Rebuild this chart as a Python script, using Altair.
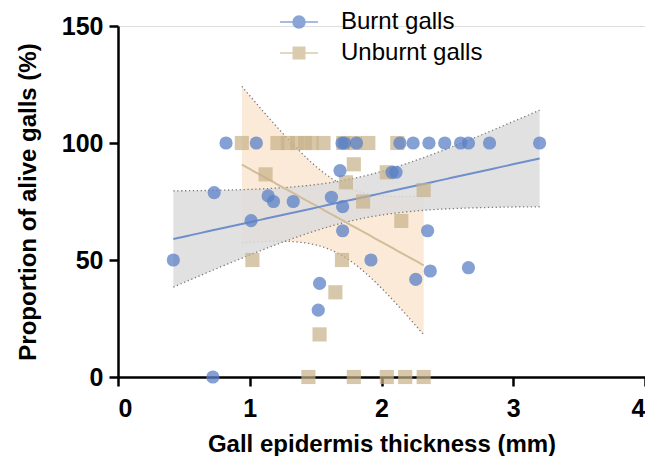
import altair as alt
import numpy as np
import pandas as pd

# ---------------- data ----------------
burnt_x = [0.42, 0.72, 0.82, 1.05, 0.73, 1.14, 1.18, 1.33, 1.01, 1.70, 1.72, 1.81,
           2.14, 2.24, 2.36, 2.48, 2.60, 2.66, 2.82, 3.20, 1.685, 2.08, 2.11, 1.62,
           1.705, 1.705, 2.35, 2.37, 2.66, 2.26, 1.92, 1.53, 1.52]
burnt_y = [50, 0, 100, 100, 78.8, 77.4, 75, 75, 66.8, 100, 100, 100,
           100, 100, 100, 100, 100, 100, 100, 100, 88.2, 87.5, 87.5, 76.8,
           72.8, 62.5, 62.5, 45.3, 46.7, 41.7, 50, 40, 28.6]

unburnt_x = [0.94, 1.21, 1.29, 1.36, 1.42, 1.47, 1.56, 1.71, 1.80, 1.90, 2.12,
             1.12, 1.79, 1.73, 2.04, 1.86, 2.15, 2.32, 1.02, 1.70, 1.65, 1.53,
             1.445, 1.79, 2.04, 2.18, 2.32]
unburnt_y = [100, 100, 100, 100, 100, 100, 100, 100, 100, 100, 100,
             86.6, 90.9, 83.2, 87.5, 75, 66.7, 79.9, 50, 50, 36.2, 18.2,
             0, 0, 0, 0, 0]

groups = ["Burnt galls", "Unburnt galls"]
point_colors = ["#5b80c6", "#c8b088"]
line_colors = ["#6f8fcc", "#d2bd9b"]
band_colors = ["#dcdcdc", "#fbe6d2"]
x_ticks = [0, 1, 2, 3, 4]
y_ticks = [0, 50, 100, 150]

FONT = "Liberation Sans"


def t975(df):
    z = 1.959964
    g1 = (z**3 + z) / 4
    g2 = (5 * z**5 + 16 * z**3 + 3 * z) / 96
    g3 = (3 * z**7 + 19 * z**5 + 17 * z**3 - 15 * z) / 384
    return z + g1 / df + g2 / df**2 + g3 / df**3


def fit_band(xs, ys, name):
    x = np.asarray(xs, float)
    y = np.asarray(ys, float)
    n = len(x)
    b, a = np.polyfit(x, y, 1)
    resid = y - (a + b * x)
    s = np.sqrt(np.sum(resid**2) / (n - 2))
    sxx = np.sum((x - x.mean()) ** 2)
    t = t975(n - 2)
    grid = np.linspace(x.min(), x.max(), 80)
    yhat = a + b * grid
    half = t * s * np.sqrt(1.0 / n + (grid - x.mean()) ** 2 / sxx)
    return pd.DataFrame({"x": grid, "fit": yhat, "lo": yhat - half,
                         "hi": yhat + half, "group": name})


pts = pd.concat([
    pd.DataFrame({"x": burnt_x, "y": burnt_y, "group": groups[0]}),
    pd.DataFrame({"x": unburnt_x, "y": unburnt_y, "group": groups[1]}),
], ignore_index=True)

band_b = fit_band(burnt_x, burnt_y, groups[0])
band_u = fit_band(unburnt_x, unburnt_y, groups[1])

xscale = alt.Scale(domain=[0, 4], nice=False, zero=False)
yscale = alt.Scale(domain=[0, 150], nice=False)

axis_common = dict(
    grid=False, domainColor="black", domainWidth=2.5, tickColor="black",
    tickWidth=2.5, tickSize=9, labelColor="black", labelFont=FONT,
    labelFontSize=25, labelFontWeight="bold", titleFont=FONT,
    titleFontSize=24, titleFontWeight="bold", titleColor="black",
)

X = alt.X("x:Q", scale=xscale,
          axis=alt.Axis(values=x_ticks, format="d",
                        title="Gall epidermis thickness (mm)",
                        labelPadding=10, titlePadding=11, **axis_common))
Y = alt.Y("y:Q", scale=yscale,
          axis=alt.Axis(values=y_ticks, format="d",
                        title="Proportion of alive galls (%)",
                        labelPadding=6, titlePadding=21, **axis_common))


def band_layers(df, color):
    area = alt.Chart(df).mark_area(color=color, opacity=0.85).encode(
        x=alt.X("x:Q", scale=xscale),
        y=alt.Y("lo:Q", scale=yscale),
        y2="hi:Q",
    )
    lo = alt.Chart(df).mark_line(color="#7a7a7a", strokeWidth=1.3,
                                 strokeDash=[1.3, 2.6]).encode(
        x=alt.X("x:Q", scale=xscale), y=alt.Y("lo:Q", scale=yscale))
    hi = alt.Chart(df).mark_line(color="#7a7a7a", strokeWidth=1.3,
                                 strokeDash=[1.3, 2.6]).encode(
        x=alt.X("x:Q", scale=xscale), y=alt.Y("hi:Q", scale=yscale))
    return [area, lo, hi]


def fit_line(df, color):
    return alt.Chart(df).mark_line(color=color, strokeWidth=2).encode(
        x=alt.X("x:Q", scale=xscale), y=alt.Y("fit:Q", scale=yscale))


squares = alt.Chart(pts).transform_filter(
    alt.datum.group == groups[1]
).mark_point(shape="square", filled=True, size=200, opacity=0.7,
             color=point_colors[1]).encode(x=X, y=Y)

circles = alt.Chart(pts).transform_filter(
    alt.datum.group == groups[0]
).mark_point(shape="circle", filled=True, size=175, opacity=0.75,
             color=point_colors[0]).encode(x=X, y=Y)

circle_path = "M-1.9,0L1.9,0M0.6,0A0.6,0.6,0,1,1,-0.6,0A0.6,0.6,0,1,1,0.6,0Z"
square_path = "M-1.9,0L1.9,0M-0.57,-0.57L0.57,-0.57L0.57,0.57L-0.57,0.57Z"

legend = alt.Legend(
    title=None, orient="none", legendX=169, legendY=-16, padding=0,
    labelFont=FONT, labelFontSize=24, labelColor="black", labelOffset=30,
    symbolSize=400, symbolStrokeWidth=1.5, symbolOpacity=0.8,
    rowPadding=7, labelLimit=400,
)

legend_layer = alt.Chart(pts).mark_point(filled=True, opacity=0).encode(
    x=alt.X("x:Q", scale=xscale),
    y=alt.Y("y:Q", scale=yscale),
    fill=alt.Fill("group:N", scale=alt.Scale(domain=groups, range=line_colors),
                  legend=legend),
    stroke=alt.Stroke("group:N", scale=alt.Scale(domain=groups, range=line_colors),
                      legend=legend),
    shape=alt.Shape("group:N", scale=alt.Scale(domain=groups,
                                               range=[circle_path, square_path]),
                    legend=legend),
)

layers = (band_layers(band_u, band_colors[1]) + band_layers(band_b, band_colors[0])
          + [fit_line(band_u, line_colors[1]), fit_line(band_b, line_colors[0]),
             squares, circles, legend_layer])

chart = alt.layer(*layers).properties(
    width=527, height=351,
    autosize=alt.AutoSizeParams(type="none"),
    padding={"left": 110, "top": 18, "right": 0, "bottom": 79},
).configure_view(stroke=None).configure(background="white")

chart.save("out.html", embed_options={"renderer": "svg", "actions": False})
